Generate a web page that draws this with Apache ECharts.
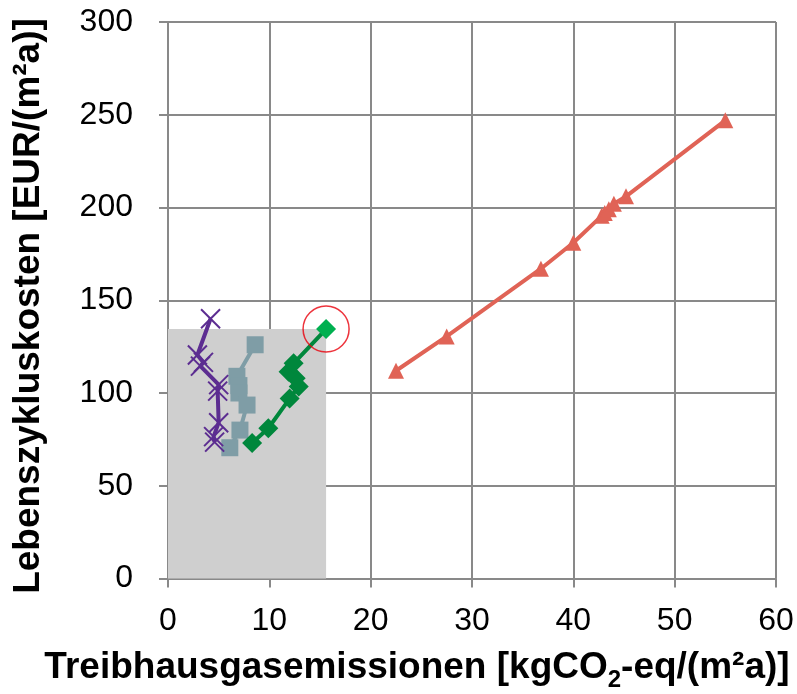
<!DOCTYPE html>
<html><head><meta charset="utf-8">
<script src="https://cdn.jsdelivr.net/npm/echarts@6/dist/echarts.min.js"></script>
<style>html,body{margin:0;padding:0;background:#fff}#c{width:797px;height:694px}</style>
</head><body><div id="c"></div>
<script>
var xTicks = [0, 10, 20, 30, 40, 50, 60];
var yTicks = [0, 50, 100, 150, 200, 250, 300];

var purpleX = [4.2, 2.9, 3.5, 3.2, 5.0, 4.9, 5.0, 4.5, 4.6];
var purpleY = [140, 120.5, 116.5, 114.5, 104.5, 101, 84, 76.5, 73.5];

var grayX = [8.6, 6.8, 7.0, 7.0, 7.8, 7.1, 6.1];
var grayY = [126, 109, 104, 100, 93.5, 80, 70.5];

var greenX = [8.3, 9.9, 12.0, 12.9, 12.6, 11.9, 12.4, 15.6];
var greenY = [73, 81, 97, 103.5, 108, 111.5, 116, 134.5];

var redX = [22.5, 27.5, 36.8, 40.0, 42.8, 43.1, 43.5, 44.0, 45.2, 55.0];
var redY = [112, 130.5, 167, 181, 195.5, 197, 199, 202, 206, 247];

var xTitleParts = ['Treibhausgasemissionen [kgCO', '2', '-eq/(m²a)]'];
var yTitle = 'Lebenszykluskosten [EUR/(m²a)]';

function pts(xs, ys) { return xs.map(function (x, i) { return [x, ys[i]]; }); }

var greenPts = pts(greenX, greenY).map(function (p, i, a) {
  return i === a.length - 1 ? { value: p, itemStyle: { color: '#00b050' } } : p;
});
var hi = [greenX[greenX.length - 1], greenY[greenY.length - 1]];

var FONT = '"Liberation Sans", Arial, sans-serif';
var gridColor = '#898989';

var mc = document.createElement('canvas').getContext('2d');
function tw(t, size) { mc.font = 'bold ' + size + 'px ' + FONT; return mc.measureText(t).width; }
var w1 = tw(xTitleParts[0], 37), w2 = tw(xTitleParts[1], 24), w3 = tw(xTitleParts[2], 37);
var x0 = 417 - (w1 + w2 + w3) / 2;
function tstyle(t, size) {
  return { text: t, fontFamily: FONT, fontSize: size, fontWeight: 'bold', fill: '#000', align: 'left', verticalAlign: 'middle' };
}

var chart = echarts.init(document.getElementById('c'));
chart.setOption({
  animation: false,
  backgroundColor: '#fff',
  grid: { left: 168, right: 21, top: 22, bottom: 115.5, containLabel: false },
  xAxis: {
    type: 'value', min: xTicks[0], max: xTicks[xTicks.length - 1], interval: 10,
    axisLine: { show: true, onZero: false, lineStyle: { color: gridColor, width: 2 } },
    axisTick: { show: true, length: 9, lineStyle: { color: gridColor, width: 2 } },
    splitLine: { show: true, lineStyle: { color: gridColor, width: 2 } },
    axisLabel: { fontFamily: FONT, fontSize: 32, color: '#000', margin: 27 }
  },
  yAxis: {
    type: 'value', min: yTicks[0], max: yTicks[yTicks.length - 1], interval: 50,
    axisLine: { show: true, lineStyle: { color: gridColor, width: 2 } },
    axisTick: { show: true, length: 9, lineStyle: { color: gridColor, width: 2 } },
    splitLine: { show: true, lineStyle: { color: gridColor, width: 2 } },
    axisLabel: { fontFamily: FONT, fontSize: 32, color: '#000', margin: 35 }
  },
  graphic: [
    { type: 'text', z: 100, x: x0, y: 668, style: tstyle(xTitleParts[0], 37) },
    { type: 'text', z: 100, x: x0 + w1, y: 680, style: tstyle(xTitleParts[1], 24) },
    { type: 'text', z: 100, x: x0 + w1 + w2, y: 668, style: tstyle(xTitleParts[2], 37) },
    {
      type: 'text', z: 100, x: 29, y: 306, rotation: Math.PI / 2,
      style: {
        text: yTitle,
        fontFamily: FONT, fontSize: 37, fontWeight: 'bold', fill: '#000',
        align: 'center', verticalAlign: 'middle'
      }
    }
  ],
  series: [
    {
      type: 'scatter', z: -1, data: [], symbolSize: 0,
      markArea: {
        silent: true,
        itemStyle: { color: '#cfcfcf' },
        data: [[{ coord: [0, 0] }, { coord: hi }]]
      }
    },
    {
      type: 'line', data: pts(purpleX, purpleY), z: 3,
      lineStyle: { color: '#5c2d91', width: 4 },
      symbol: 'path://M0,0L10,10M10,0L0,10', symbolSize: 19,
      itemStyle: { color: 'rgba(0,0,0,0)', borderColor: '#5c2d91', borderWidth: 2 }
    },
    {
      type: 'line', data: pts(grayX, grayY), z: 2,
      lineStyle: { color: '#7f9da6', width: 4 },
      symbol: 'rect', symbolSize: 17,
      itemStyle: { color: '#7f9da6' }
    },
    {
      type: 'line', data: greenPts, z: 4,
      lineStyle: { color: '#00873c', width: 4 },
      symbol: 'diamond', symbolSize: 20,
      itemStyle: { color: '#00873c' }
    },
    {
      type: 'line', data: pts(redX, redY), z: 4,
      lineStyle: { color: '#e06356', width: 4 },
      symbol: 'triangle', symbolSize: 16,
      itemStyle: { color: '#e06356' }
    },
    {
      type: 'scatter', data: [hi], z: 5,
      symbol: 'circle', symbolSize: 46,
      itemStyle: { color: 'rgba(0,0,0,0)', borderColor: '#e8000b', borderWidth: 1.5 }
    }
  ]
});
</script>
</body></html>
